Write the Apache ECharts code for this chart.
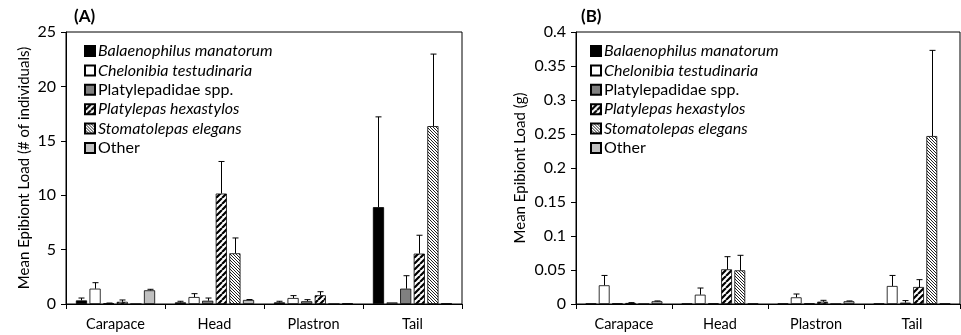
<!DOCTYPE html>
<html>
<head>
<meta charset="utf-8">
<script src="https://cdn.jsdelivr.net/npm/echarts@6/dist/echarts.min.js"></script>
<style>
  html, body { margin: 0; padding: 0; background: #fff; }
  #chart { width: 961px; height: 335px; }
</style>
</head>
<body>
<div id="chart"></div>
<script>
const categories = ['Carapace', 'Head', 'Plastron', 'Tail'];
const speciesNames = [
  'Balaenophilus manatorum',
  'Chelonibia testudinaria',
  'Platylepadidae spp.',
  'Platylepas hexastylos',
  'Stomatolepas elegans',
  'Other',
];
const italicNames = ['Balaenophilus manatorum', 'Chelonibia testudinaria', 'Platylepas hexastylos', 'Stomatolepas elegans'];

// (A) mean load, # of individuals
const countBalaenophilus = [0.33, 0.15, 0.15, 8.9];
const countChelonibia = [1.41, 0.64, 0.55, 0.15];
const countPlatylepadidae = [0.07, 0.3, 0.25, 1.41];
const countHexastylos = [0.2, 10.15, 0.8, 4.63];
const countStomatolepas = [0, 4.66, 0, 16.35];
const countOther = [1.26, 0.37, 0.06, 0.05];
// (A) error (upper)
const countErrBalaenophilus = [0.22, 0.1, 0.1, 8.3];
const countErrChelonibia = [0.55, 0.31, 0.22, 0];
const countErrPlatylepadidae = [0.02, 0.25, 0.15, 1.19];
const countErrHexastylos = [0.17, 2.95, 0.33, 1.69];
const countErrStomatolepas = [0, 1.41, 0, 6.62];
const countErrOther = [0.09, 0.04, 0, 0];

// (B) mean load, g
const massBalaenophilus = [0.0005, 0.0005, 0.0005, 0.0005];
const massChelonibia = [0.0275, 0.0137, 0.0098, 0.0265];
const massPlatylepadidae = [0.0008, 0.0008, 0.0008, 0.002];
const massHexastylos = [0.0015, 0.051, 0.0034, 0.025];
const massStomatolepas = [0, 0.0495, 0, 0.247];
const massOther = [0.004, 0.0005, 0.004, 0.0005];
// (B) error (upper)
const massErrBalaenophilus = [0, 0, 0, 0];
const massErrChelonibia = [0.0145, 0.0098, 0.0049, 0.0155];
const massErrPlatylepadidae = [0, 0, 0, 0.003];
const massErrHexastylos = [0.0005, 0.0186, 0.002, 0.0108];
const massErrStomatolepas = [0, 0.0221, 0, 0.126];
const massErrOther = [0.0005, 0, 0.0005, 0];

const yTicksA = [0, 5, 10, 15, 20, 25];
const yTicksB = [0, 0.05, 0.1, 0.15, 0.2, 0.25, 0.3, 0.35, 0.4];

const meansA = [countBalaenophilus, countChelonibia, countPlatylepadidae, countHexastylos, countStomatolepas, countOther];
const errsA = [countErrBalaenophilus, countErrChelonibia, countErrPlatylepadidae, countErrHexastylos, countErrStomatolepas, countErrOther];
const meansB = [massBalaenophilus, massChelonibia, massPlatylepadidae, massHexastylos, massStomatolepas, massOther];
const errsB = [massErrBalaenophilus, massErrChelonibia, massErrPlatylepadidae, massErrHexastylos, massErrStomatolepas, massErrOther];

const FONT = 'Lato';
const BAR_GAP = 0.22;
const CAT_GAP = 0.2;

function stripes(size, width, color, dir) {
  const c = document.createElement('canvas');
  c.width = size;
  c.height = size;
  const g = c.getContext('2d');
  g.fillStyle = '#fff';
  g.fillRect(0, 0, size, size);
  g.strokeStyle = color;
  g.lineWidth = width;
  g.beginPath();
  for (const k of [-size, 0, size]) {
    if (dir === '/') {
      g.moveTo(k, size);
      g.lineTo(k + size, 0);
    } else {
      g.moveTo(k, 0);
      g.lineTo(k + size, size);
    }
  }
  g.stroke();
  return {image: c, repeat: 'repeat'};
}

const fills = [
  '#000000',
  '#ffffff',
  '#808080',
  stripes(6, 2.2, '#000', '/'),
  stripes(3, 1, '#222', '\\'),
  '#c0c0c0',
];

function barSeries(means, axisIdx) {
  return means.map((vals, i) => ({
    name: speciesNames[i],
    type: 'bar',
    xAxisIndex: axisIdx,
    yAxisIndex: axisIdx,
    barGap: BAR_GAP * 100 + '%',
    barCategoryGap: CAT_GAP * 100 + '%',
    itemStyle: {color: fills[i], borderColor: '#000', borderWidth: 0.8},
    emphasis: {disabled: true},
    data: vals,
  }));
}

function errorSeries(means, errs, axisIdx) {
  const data = [];
  means.forEach((vals, s) => {
    vals.forEach((v, c) => {
      if (errs[s][c] > 0) {
        data.push([c, s, v, v + errs[s][c]]);
      }
    });
  });
  return {
    type: 'custom',
    xAxisIndex: axisIdx,
    yAxisIndex: axisIdx,
    z: 5,
    silent: true,
    encode: {x: 0, y: [2, 3]},
    data,
    renderItem: (params, api) => {
      const c = api.value(0);
      const s = api.value(1);
      const base = api.coord([c, api.value(2)]);
      const top = api.coord([c, api.value(3)]);
      const band = api.size([1, 0])[0];
      const usable = band * (1 - CAT_GAP);
      const n = speciesNames.length;
      const bw = usable / (n + (n - 1) * BAR_GAP);
      const x = Math.round(base[0] - usable / 2 + s * bw * (1 + BAR_GAP) + bw / 2) + 0.5;
      const style = {stroke: '#000', lineWidth: 1};
      return {
        type: 'group',
        children: [
          {type: 'line', shape: {x1: x, y1: base[1], x2: x, y2: top[1]}, style},
          {type: 'line', shape: {x1: x - 3, y1: top[1], x2: x + 3, y2: top[1]}, style},
        ],
      };
    },
  };
}

function legendFor(left) {
  return {
    orient: 'vertical',
    left,
    top: 38,
    selectedMode: false,
    icon: 'rect',
    itemWidth: 10,
    itemHeight: 10,
    itemGap: 3.4,
    data: speciesNames,
    formatter: (name) => (italicNames.includes(name) ? '{i|' + name + '}' : name),
    textStyle: {
      fontFamily: FONT,
      fontSize: 16,
      color: '#000',
      padding: [0, 0, 0, -2],
      lineHeight: 16,
      rich: {i: {fontStyle: 'italic', fontFamily: FONT, fontSize: 16, lineHeight: 16, color: '#000'}},
    },
  };
}

function xAxisFor(gridIndex) {
  return {
    type: 'category',
    gridIndex,
    data: categories,
    axisLine: {lineStyle: {color: '#000', width: 1}},
    axisTick: {show: true, length: 5, lineStyle: {color: '#000'}},
    axisLabel: {color: '#000', fontFamily: FONT, fontSize: 14.5, margin: 13},
  };
}

function yAxisFor(gridIndex, ticks, name, nameGap) {
  return {
    type: 'value',
    gridIndex,
    min: ticks[0],
    max: ticks[ticks.length - 1],
    interval: ticks[1] - ticks[0],
    name,
    nameLocation: 'middle',
    nameGap,
    nameTextStyle: {color: '#000', fontFamily: FONT, fontSize: 15},
    axisLine: {show: true, lineStyle: {color: '#000', width: 1}},
    axisTick: {show: true, length: 5, lineStyle: {color: '#000'}},
    axisLabel: {color: '#000', fontFamily: FONT, fontSize: 16, margin: 10},
    splitLine: {show: false},
  };
}

const chart = echarts.init(document.getElementById('chart'), null, {renderer: 'canvas'});
chart.setOption({
  animation: false,
  backgroundColor: '#fff',
  title: [
    {text: '(A)', left: 69, top: 3, textStyle: {fontFamily: FONT, fontSize: 17, fontWeight: 'bold', color: '#000'}},
    {text: '(B)', left: 576, top: 3, textStyle: {fontFamily: FONT, fontSize: 17, fontWeight: 'bold', color: '#000'}},
  ],
  legend: [legendFor(79), legendFor(585)],
  grid: [
    {left: 66, top: 32, width: 396, height: 272, show: true, borderColor: '#000', borderWidth: 1, backgroundColor: 'transparent'},
    {left: 576, top: 32, width: 384, height: 272, show: true, borderColor: '#000', borderWidth: 1, backgroundColor: 'transparent'},
  ],
  xAxis: [xAxisFor(0), xAxisFor(1)],
  yAxis: [
    yAxisFor(0, yTicksA, 'Mean Epibiont Load (# of individuals)', 34),
    yAxisFor(1, yTicksB, 'Mean Epibiont Load (g)', 48),
  ],
  series: [
    ...barSeries(meansA, 0),
    ...barSeries(meansB, 1),
    errorSeries(meansA, errsA, 0),
    errorSeries(meansB, errsB, 1),
  ],
});
</script>
</body>
</html>
